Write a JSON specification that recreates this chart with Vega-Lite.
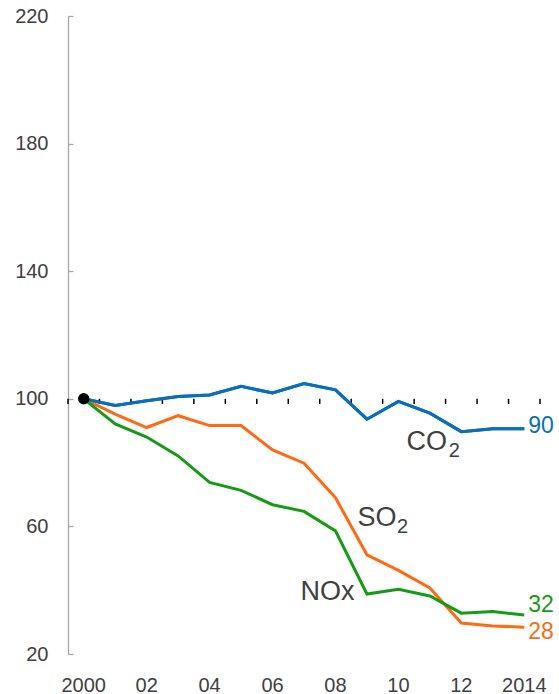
{
  "$schema": "https://vega.github.io/schema/vega-lite/v6.json",
  "width": 472,
  "height": 638,
  "padding": {"left": 68, "top": 16, "right": 19, "bottom": 40},
  "autosize": {"type": "none"},
  "config": {"view": {"stroke": null}, "font": "Liberation Sans"},
  "datasets": {
    "emissions": [
      {"series": "CO2", "year": 2000, "value": 100},
      {"series": "CO2", "year": 2001, "value": 97.9},
      {"series": "CO2", "year": 2002, "value": 99.4},
      {"series": "CO2", "year": 2003, "value": 100.7},
      {"series": "CO2", "year": 2004, "value": 101.2},
      {"series": "CO2", "year": 2005, "value": 103.9},
      {"series": "CO2", "year": 2006, "value": 101.8},
      {"series": "CO2", "year": 2007, "value": 104.8},
      {"series": "CO2", "year": 2008, "value": 102.8},
      {"series": "CO2", "year": 2009, "value": 93.6},
      {"series": "CO2", "year": 2010, "value": 99.2},
      {"series": "CO2", "year": 2011, "value": 95.5},
      {"series": "CO2", "year": 2012, "value": 89.7},
      {"series": "CO2", "year": 2013, "value": 90.6},
      {"series": "CO2", "year": 2014, "value": 90.6},
      {"series": "SO2", "year": 2000, "value": 100},
      {"series": "SO2", "year": 2001, "value": 95.2},
      {"series": "SO2", "year": 2002, "value": 91.0},
      {"series": "SO2", "year": 2003, "value": 94.7},
      {"series": "SO2", "year": 2004, "value": 91.6},
      {"series": "SO2", "year": 2005, "value": 91.6},
      {"series": "SO2", "year": 2006, "value": 84.0},
      {"series": "SO2", "year": 2007, "value": 79.8},
      {"series": "SO2", "year": 2008, "value": 69.0},
      {"series": "SO2", "year": 2009, "value": 51.1},
      {"series": "SO2", "year": 2010, "value": 46.2},
      {"series": "SO2", "year": 2011, "value": 40.7},
      {"series": "SO2", "year": 2012, "value": 29.7},
      {"series": "SO2", "year": 2013, "value": 28.8},
      {"series": "SO2", "year": 2014, "value": 28.4},
      {"series": "NOx", "year": 2000, "value": 100},
      {"series": "NOx", "year": 2001, "value": 92.1},
      {"series": "NOx", "year": 2002, "value": 88.0},
      {"series": "NOx", "year": 2003, "value": 82.1},
      {"series": "NOx", "year": 2004, "value": 73.8},
      {"series": "NOx", "year": 2005, "value": 71.3},
      {"series": "NOx", "year": 2006, "value": 66.8},
      {"series": "NOx", "year": 2007, "value": 64.7},
      {"series": "NOx", "year": 2008, "value": 58.6},
      {"series": "NOx", "year": 2009, "value": 38.8},
      {"series": "NOx", "year": 2010, "value": 40.3},
      {"series": "NOx", "year": 2011, "value": 38.2},
      {"series": "NOx", "year": 2012, "value": 32.8},
      {"series": "NOx", "year": 2013, "value": 33.3},
      {"series": "NOx", "year": 2014, "value": 32.2}
    ]
  },
  "layer": [
    {
      "data": {"name": "emissions"},
      "mark": {"type": "line", "strokeWidth": 3},
      "encoding": {
        "x": {
          "field": "year", "type": "ordinal", "bandPosition": 0.5, "title": null,
          "scale": {"type": "band", "paddingInner": 0, "paddingOuter": 0},
          "axis": {
            "domain": false, "ticks": false, "tickSize": 0, "grid": false,
            "labelPadding": 21, "labelFontSize": 20, "labelColor": "#404040", "labelAngle": 0,
            "labelFont": "Liberation Sans",
            "labelExpr": "datum.value == 2000 || datum.value == 2014 ? datum.label : (datum.value % 2 == 0 ? slice(datum.label, 2) : '')"
          }
        },
        "y": {
          "field": "value", "type": "quantitative", "title": null,
          "scale": {"domain": [20, 220], "nice": false, "zero": false},
          "axis": {
            "values": [20, 60, 100, 140, 180, 220], "grid": false,
            "domainColor": "#A6A6A6", "domainWidth": 1.3, "tickColor": "#A6A6A6", "tickWidth": 1.3,
            "tickSize": -5, "labelPadding": 25, "labelFontSize": 20, "labelColor": "#404040",
            "labelFont": "Liberation Sans"
          }
        },
        "color": {
          "field": "series", "type": "nominal", "legend": null,
          "scale": {"domain": ["CO2", "SO2", "NOx"], "range": ["#0A6EBD", "#FF6A13", "#169B16"]}
        },
        "order": {"field": "year"}
      }
    },
    {
      "mark": {"type": "rule", "color": "black", "strokeWidth": 1.5},
      "encoding": {"y": {"datum": 100, "type": "quantitative", "title": null}}
    },
    {
      "data": {"name": "emissions"},
      "transform": [{"filter": "datum.series == 'CO2'"}],
      "mark": {"type": "rule", "color": "black", "strokeWidth": 1.5},
      "encoding": {
        "x": {"field": "year", "type": "ordinal", "bandPosition": 0, "title": null},
        "y": {"datum": 100, "type": "quantitative", "title": null},
        "y2": {"datum": 98.4}
      }
    },
    {
      "data": {"values": [{"year": 2014}]},
      "mark": {"type": "rule", "color": "black", "strokeWidth": 1.5},
      "encoding": {
        "x": {"field": "year", "type": "ordinal", "bandPosition": 1, "title": null},
        "y": {"datum": 100, "type": "quantitative", "title": null},
        "y2": {"datum": 98.4}
      }
    },
    {
      "data": {"name": "emissions"},
      "transform": [{"filter": "datum.series == 'CO2'"}],
      "mark": {"type": "line", "strokeWidth": 3, "color": "#0A6EBD"},
      "encoding": {
        "x": {"field": "year", "type": "ordinal", "bandPosition": 0.5, "title": null},
        "y": {"field": "value", "type": "quantitative", "title": null},
        "order": {"field": "year"}
      }
    },
    {
      "data": {"values": [{"year": 2000, "value": 100}]},
      "mark": {"type": "point", "filled": true, "color": "black", "size": 130, "opacity": 1},
      "encoding": {
        "x": {"field": "year", "type": "ordinal", "bandPosition": 0.5, "title": null},
        "y": {"field": "value", "type": "quantitative", "title": null}
      }
    },
    {
      "data": {"values": [{"year": 2011, "value": 84.0, "label": "CO"}]},
      "mark": {"type": "text", "fontSize": 27, "color": "#404040", "align": "center", "baseline": "alphabetic", "dx": -3},
      "encoding": {
        "x": {"field": "year", "type": "ordinal", "bandPosition": 0.5, "title": null},
        "y": {"field": "value", "type": "quantitative", "title": null},
        "text": {"field": "label"}
      }
    },
    {
      "data": {"values": [{"year": 2011, "value": 84.0, "label": "2"}]},
      "mark": {"type": "text", "fontSize": 20, "color": "#404040", "align": "left", "baseline": "alphabetic", "dx": 19, "dy": 7},
      "encoding": {
        "x": {"field": "year", "type": "ordinal", "bandPosition": 0.5, "title": null},
        "y": {"field": "value", "type": "quantitative", "title": null},
        "text": {"field": "label"}
      }
    },
    {
      "data": {"values": [{"year": 2009, "value": 60.0, "label": "SO"}]},
      "mark": {"type": "text", "fontSize": 27, "color": "#404040", "align": "center", "baseline": "alphabetic", "dx": 10},
      "encoding": {
        "x": {"field": "year", "type": "ordinal", "bandPosition": 0.5, "title": null},
        "y": {"field": "value", "type": "quantitative", "title": null},
        "text": {"field": "label"}
      }
    },
    {
      "data": {"values": [{"year": 2009, "value": 60.0, "label": "2"}]},
      "mark": {"type": "text", "fontSize": 20, "color": "#404040", "align": "left", "baseline": "alphabetic", "dx": 30, "dy": 7},
      "encoding": {
        "x": {"field": "year", "type": "ordinal", "bandPosition": 0.5, "title": null},
        "y": {"field": "value", "type": "quantitative", "title": null},
        "text": {"field": "label"}
      }
    },
    {
      "data": {"values": [{"year": 2008, "value": 37.0, "label": "NOx"}]},
      "mark": {"type": "text", "fontSize": 27, "color": "#404040", "align": "center", "baseline": "alphabetic", "dx": -8},
      "encoding": {
        "x": {"field": "year", "type": "ordinal", "bandPosition": 0.5, "title": null},
        "y": {"field": "value", "type": "quantitative", "title": null},
        "text": {"field": "label"}
      }
    },
    {
      "data": {"values": [
        {"series": "CO2", "year": 2014, "value": 91.5, "label": "90"},
        {"series": "NOx", "year": 2014, "value": 35.3, "label": "32"},
        {"series": "SO2", "year": 2014, "value": 27.0, "label": "28"}
      ]},
      "mark": {"type": "text", "fontSize": 23, "align": "left", "baseline": "middle", "dx": 4},
      "encoding": {
        "x": {"field": "year", "type": "ordinal", "bandPosition": 0.5, "title": null},
        "y": {"field": "value", "type": "quantitative", "title": null},
        "text": {"field": "label"},
        "color": {"field": "series", "type": "nominal", "legend": null}
      }
    }
  ]
}
